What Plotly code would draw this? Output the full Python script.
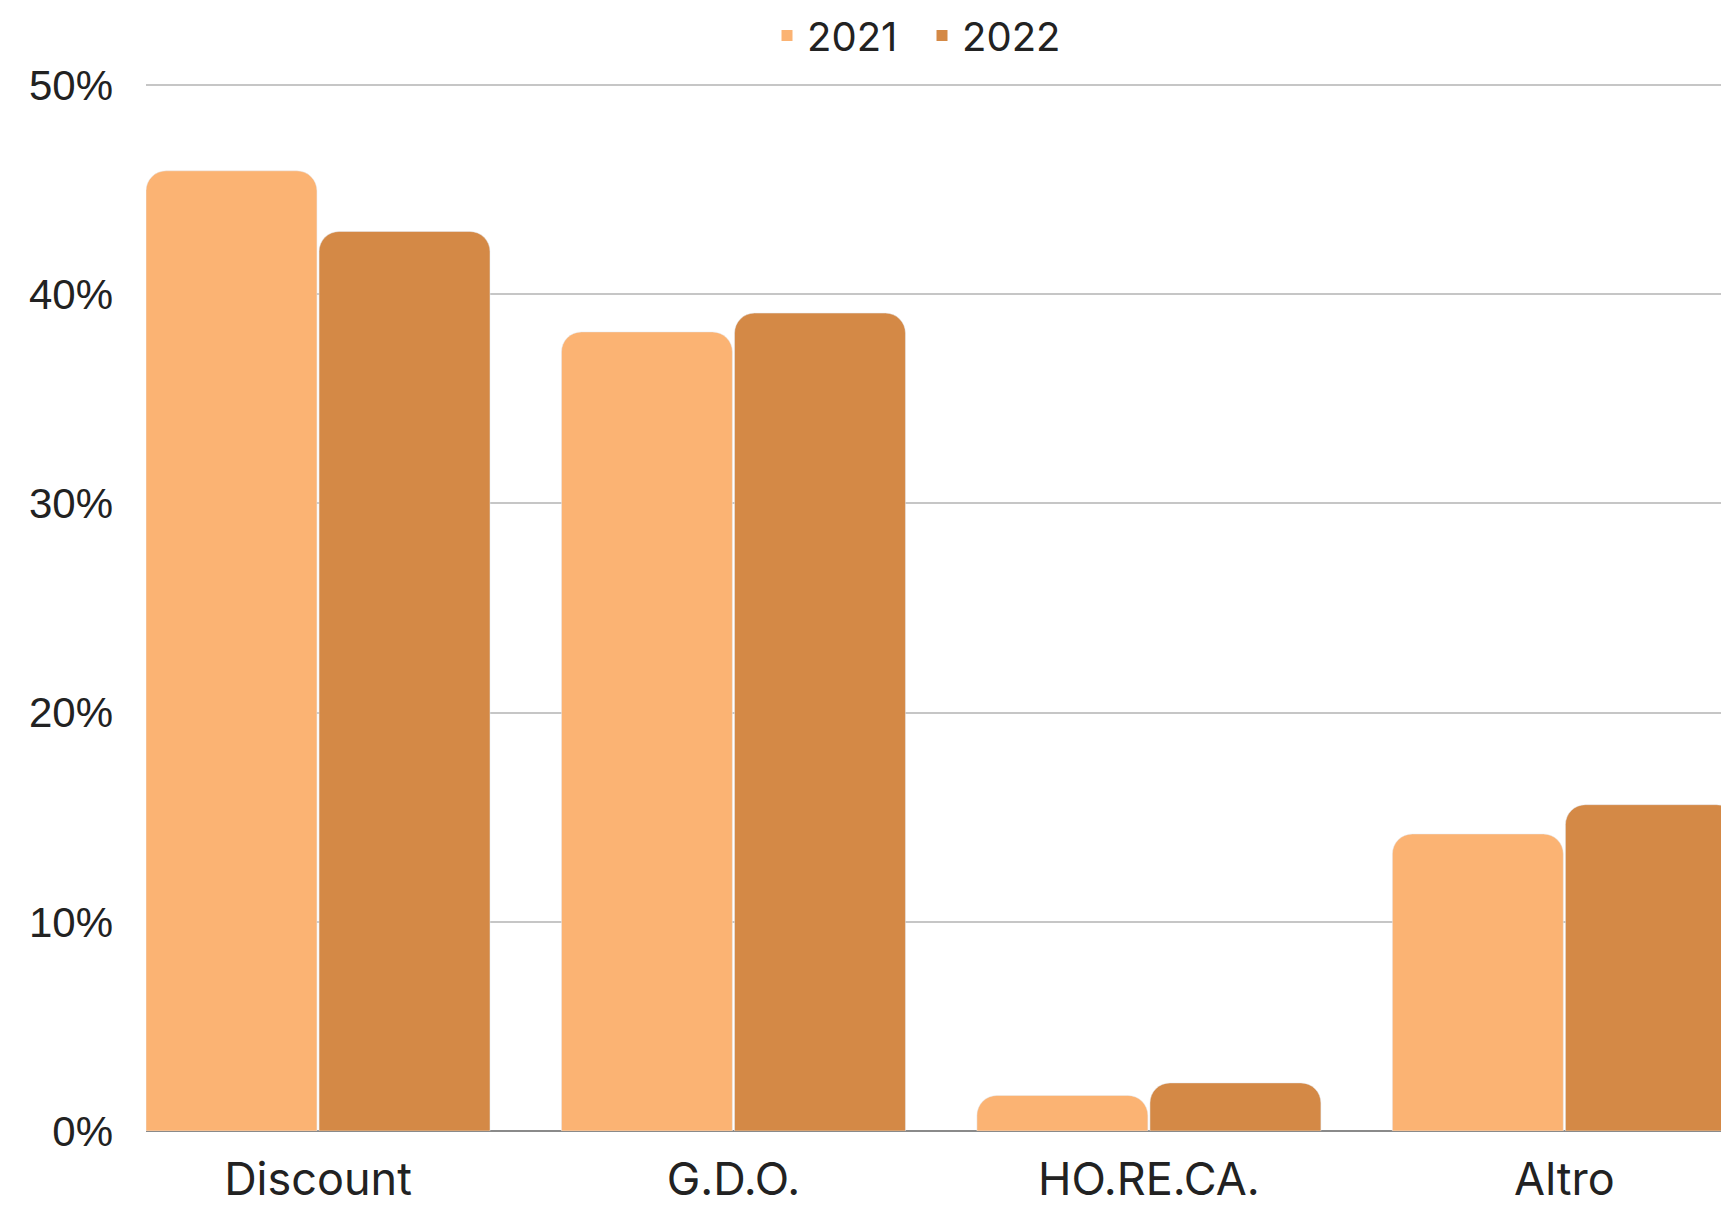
import plotly.graph_objects as go

categories = ["Discount", "G.D.O.", "HO.RE.CA.", "Altro"]
years = ["2021", "2022"]
values_2021 = [45.9, 38.2, 1.7, 14.2]
values_2022 = [43.0, 39.1, 2.3, 15.6]
colors = ["#FBB373", "#D48946"]
y_ticks = [0, 10, 20, 30, 40, 50]
y_tick_labels = ["0%", "10%", "20%", "30%", "40%", "50%"]

fig = go.Figure()
for name, vals, col in zip(years, [values_2021, values_2022], colors):
    fig.add_trace(go.Bar(x=categories, y=vals, name=name, marker_color=col,
                         showlegend=False))
    fig.add_trace(go.Scatter(x=[None], y=[None], mode="markers", name=name,
                             marker=dict(symbol="square", size=11, color=col),
                             showlegend=True))

fig.update_layout(
    width=1721, height=1207,
    paper_bgcolor="white", plot_bgcolor="white",
    barmode="group", bargap=0.167, bargroupgap=0.012,
    barcornerradius=20,
    margin=dict(l=146, r=0, t=83.5, b=76, autoexpand=False),
    font=dict(family="Inter, Lato, sans-serif", color="#222222"),
    legend=dict(orientation="h", xref="paper", yref="paper",
                x=0.4927, y=1.0463, xanchor="center", yanchor="middle",
                font=dict(size=40, family="Inter, sans-serif", color="#222222"),
                itemwidth=30, entrywidth=110, tracegroupgap=0),
)
fig.update_xaxes(range=[-0.414, 3.377], showgrid=False, showline=False,
                 tickfont=dict(size=45, family="Inter, sans-serif", color="#222222"),
                 ticks="", ticklabelstandoff=18)
fig.update_yaxes(range=[0, 50.05], tickvals=y_ticks, ticktext=y_tick_labels,
                 showgrid=True, gridcolor="#C6C6C6", gridwidth=1.5,
                 zeroline=True, zerolinecolor="#8A8A8A", zerolinewidth=1.5,
                 tickfont=dict(size=42, family="Liberation Sans, Arial, sans-serif", color="#222222"),
                 ticks="", ticklabelstandoff=32)

fig.write_html("out.html", config={"displayModeBar": False},
               post_script="document.body.style.margin='0';document.body.style.overflow='hidden';")
